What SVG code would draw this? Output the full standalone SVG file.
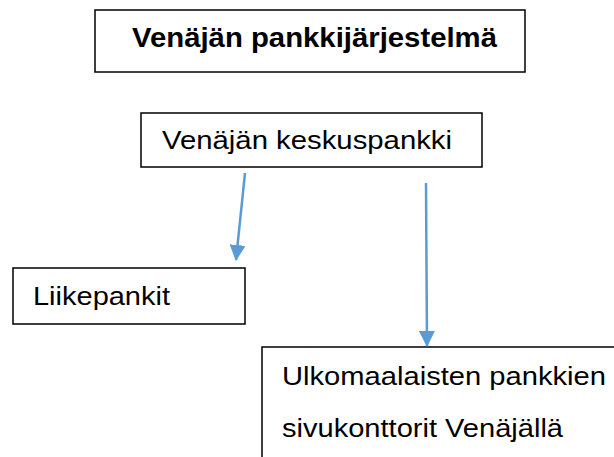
<svg xmlns="http://www.w3.org/2000/svg" width="614" height="457" viewBox="0 0 614 457">
<style>
.box{fill:#fff;stroke:#000;stroke-width:1.5}
.t{font-family:"Liberation Sans",Arial,sans-serif;font-size:25.5px;fill:#000}
.b{font-weight:bold;font-size:28px}
.conn{stroke:#5B9BD5;stroke-width:2.5;fill:none}
</style>
<defs>
<marker id="ah" viewBox="0 0 16 16" refX="15" refY="8" markerWidth="16" markerHeight="16" markerUnits="userSpaceOnUse" orient="auto">
<path d="M0,0 L16,8 L0,16 Z" fill="#5B9BD5"/>
</marker>
</defs>
<g id="title">
<rect class="box" x="95" y="10" width="430" height="62"/>
<text class="t b" x="132" y="47" textLength="365" lengthAdjust="spacingAndGlyphs">Venäjän pankkijärjestelmä</text>
</g>
<g id="keskuspankki">
<rect class="box" x="141" y="113" width="341" height="54"/>
<text class="t" x="162" y="149" textLength="290" lengthAdjust="spacingAndGlyphs">Venäjän keskuspankki</text>
</g>
<g id="liikepankit">
<rect class="box" x="13" y="268" width="232" height="56"/>
<text class="t" x="33" y="305" textLength="137" lengthAdjust="spacingAndGlyphs">Liikepankit</text>
</g>
<g id="sivukonttorit">
<rect class="box" x="262" y="347" width="360" height="120"/>
<text class="t" x="282" y="385" textLength="324" lengthAdjust="spacingAndGlyphs">Ulkomaalaisten pankkien</text>
<text class="t" x="282" y="437" textLength="281" lengthAdjust="spacingAndGlyphs">sivukonttorit Venäjällä</text>
</g>
<g id="connectors">
<line class="conn" x1="245" y1="173" x2="236" y2="260" marker-end="url(#ah)"/>
<line class="conn" x1="426" y1="183" x2="427" y2="346" marker-end="url(#ah)"/>
</g>
</svg>
